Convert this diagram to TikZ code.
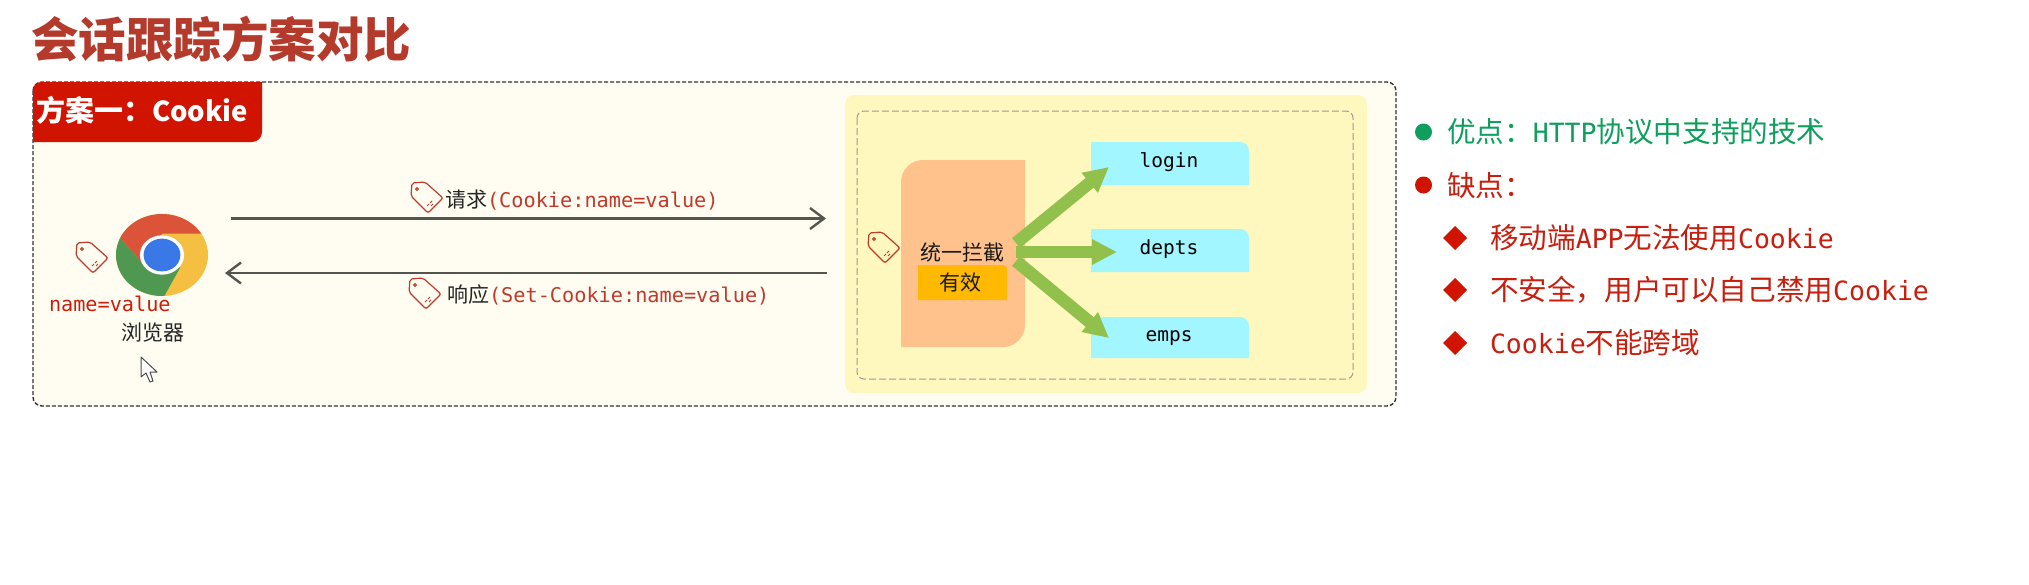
\documentclass[tikz,border=0pt]{standalone}
\usepackage{fontspec}
\usetikzlibrary{arrows.meta}
\setmainfont{Noto Sans CJK SC}
\newfontfamily\monof{DejaVu Sans Mono}
\definecolor{titlered}{HTML}{B43A2C}
\definecolor{tabred}{HTML}{D01400}
\definecolor{outerfill}{HTML}{FFFDF1}
\definecolor{panelfill}{HTML}{FFF8BE}
\definecolor{orangefill}{HTML}{FFC28C}
\definecolor{goldfill}{HTML}{FFB900}
\definecolor{cyanfill}{HTML}{A2F6FF}
\definecolor{arrowgreen}{HTML}{92C04C}
\definecolor{linegrey}{HTML}{55554F}
\definecolor{labelred}{HTML}{C0392B}
\definecolor{proggreen}{HTML}{0E9F5C}
\definecolor{conred}{HTML}{C81E0E}
\definecolor{chromeyellow}{HTML}{F5BF42}
\definecolor{chromered}{HTML}{DB5338}
\definecolor{chromegreen}{HTML}{4E9852}
\definecolor{chromeblue}{HTML}{3B78E7}
\newcommand{\fs}[1]{\fontsize{#1}{#1}\selectfont}
\tikzset{
  txt/.style={inner sep=0pt,outer sep=0pt,text=#1},
  txt/.default=black,
  tagline/.style={draw=labelred,line width=1.2pt},
  msgarrow/.style={draw=linegrey,line width=2.4pt,-{Straight Barb[length=14pt,width=21pt]}},
  fatarrow/.style={draw=arrowgreen,line width=#1,-{Triangle[length=25pt,width=24pt]}},
  tagicon/.pic={
    \draw[tagline,rounded corners=2pt] (1,-1) -- (14,0) -- (32,-16) -- (17,-31) -- (0,-14) -- cycle;
    \draw[tagline,line width=1pt] (6,-7) circle[radius=1.4];
    \draw[tagline,line width=1pt] (16,-24)--(18,-22) (19,-21)--(21,-19) (20,-24)--(22,-22);
  }
}
\begin{document}
\begin{tikzpicture}[x=1pt,y=1pt]
\useasboundingbox (0,0) rectangle (2029,-584);
\fill[white] (0,0) rectangle (2029,-584);
% title
\node[txt=titlered,anchor=west,font=\fs{47.5}\bfseries] (title) at (31,-39) {会话跟踪方案对比};
% outer box
\draw[fill=outerfill,draw=black!80,line width=1.4pt,dash pattern=on 4pt off 2pt,rounded corners=9pt] (33,-82) rectangle (1396,-406);
% tab
\fill[tabred] (33,-142) -- (33,-90) arc[start angle=180,end angle=90,radius=8] -- (262,-82) -- (262,-132) arc[start angle=0,end angle=-90,radius=10] -- cycle;
\node[txt=white,anchor=west,font=\fs{29}\bfseries] (tab) at (36,-110) {方案一：{\fs{27.5}Cookie}};
% panel
\fill[panelfill,rounded corners=9pt] (845,-95) rectangle (1367,-393);
\draw[draw=black!40,line width=1pt,dash pattern=on 7pt off 3pt,rounded corners=7pt] (857,-111) rectangle (1353,-379);
% chrome
\begin{scope}[shift={(162,-255)},x=46pt,y=41pt]
  \clip (0,0) circle[radius=1];
  \fill[chromeyellow] (-1.5,-1.5) rectangle (1.5,1.5);
  \fill[chromered] (0,0.52) -- (1.5,0.52) -- (1.5,1.5) -- (-1.5,1.5) -- (-1.2,0.79) -- (-0.35,-0.3) -- cycle;
  \fill[chromegreen] (-1.2,0.79) -- (-0.35,-0.3) -- (0.4,-0.3) -- (-0.05,-1.2) -- (-1.5,-1.2) -- (-1.5,0.79) -- cycle;
  \fill[white] (0,0) circle[radius=0.48];
  \fill[chromeblue] (0,0) circle[radius=0.4];
\end{scope}
\pic (tagbrowser) at (76,-242) {tagicon};
\pic (tagreq) at (411,-182) {tagicon};
\pic (tagresp) at (409,-278) {tagicon};
\pic (tagserver) at (868,-232) {tagicon};
\node[txt=conred,anchor=west,font=\fs{20.2}\monof] (nv) at (49,-304) {name=value};
\node[txt=black!85,anchor=center,font=\fs{21}] (browser) at (152.5,-333) {浏览器};
% cursor
\draw[fill=white,draw=black!70,line width=1pt,line join=round] (141,-357) -- (141,-377) -- (146,-373) -- (150,-382) -- (153,-381) -- (150,-372) -- (157,-372) -- cycle;
% arrows
\coordinate (reqstart) at (231,-218.5);
\coordinate (reqend) at (826,-218.5);
\coordinate (respstart) at (827,-273);
\coordinate (respend) at (225,-273);
\draw[msgarrow] (reqstart) -- (reqend);
\draw[msgarrow] (respstart) -- (respend);
\node[txt=black!85,anchor=west,font=\fs{21}] (reqlabel) at (445,-200) {请求{\color{labelred}\fs{20.25}\monof(Cookie:name=value)}};
\node[txt=black!85,anchor=west,font=\fs{21}] (resplabel) at (447,-295) {响应{\color{labelred}\fs{20.25}\monof(Set-Cookie:name=value)}};
% filter
\fill[orangefill] (901,-347) -- (901,-182) arc[start angle=180,end angle=90,radius=22] -- (1025,-160) -- (1025,-325) arc[start angle=0,end angle=-90,radius=22] -- cycle;
\fill[goldfill] (918,-300) -- (918,-265) -- (1003,-265) arc[start angle=90,end angle=0,radius=4] -- (1007,-300) -- cycle;
\node[txt=black!90,font=\fs{21}] (filter) at (962,-252) {统一拦截};
\node[txt=black!90,font=\fs{21}] (valid) at (960,-283) {有效};
% resources
\fill[cyanfill] (1091,-185) -- (1091,-142) -- (1240,-142) arc[start angle=90,end angle=0,radius=9] -- (1249,-185) -- cycle;
\fill[cyanfill] (1091,-272) -- (1091,-229) -- (1240,-229) arc[start angle=90,end angle=0,radius=9] -- (1249,-272) -- cycle;
\fill[cyanfill] (1091,-358) -- (1091,-317) -- (1240,-317) arc[start angle=90,end angle=0,radius=9] -- (1249,-358) -- cycle;
\node[txt=black,font=\fs{19.5}\monof] (login) at (1169,-162.5) {login};
\node[txt=black,font=\fs{19.5}\monof] (depts) at (1169,-249.5) {depts};
\node[txt=black,font=\fs{19.5}\monof] (emps) at (1169,-338) {emps};
\coordinate (fup) at (1016,-243);
\coordinate (fmid) at (1016,-252);
\coordinate (fdown) at (1016,-261);
\coordinate (tlogin) at (1109,-167);
\coordinate (tdepts) at (1117,-252);
\coordinate (temps) at (1109,-338);
\draw[fatarrow=12.5pt] (fup) -- (tlogin);
\draw[fatarrow=12pt] (fmid) -- (tdepts);
\draw[fatarrow=12.5pt] (fdown) -- (temps);
% right list
\fill[color=proggreen] (1423.5,-132) circle[radius=8.5];
\node[txt=proggreen,anchor=west,font=\fs{28.6}] (pro) at (1447,-132) {优点：{\fs{26.5}\monof HTTP}协议中支持的技术};
\fill[color=tabred] (1423.5,-185) circle[radius=8.5];
\node[txt=conred,anchor=west,font=\fs{28.6}] (con) at (1447,-186) {缺点：};
\foreach \yy in {238,290,343}{
  \fill[color=tabred] (1443,-\yy) -- (1455,-\yy+12) -- (1467,-\yy) -- (1455,-\yy-12) -- cycle;
}
\node[txt=conred,anchor=west,font=\fs{28.6}] (con1) at (1490,-237.5) {移动端{\fs{26.5}\monof APP}无法使用{\fs{26.5}\monof Cookie}};
\node[txt=conred,anchor=west,font=\fs{28.6}] (con2) at (1490,-290) {不安全，用户可以自己禁用{\fs{26.5}\monof Cookie}};
\node[txt=conred,anchor=west,font=\fs{28.6}] (con3) at (1490,-343) {{\fs{26.5}\monof Cookie}不能跨域};
\end{tikzpicture}
\end{document}
